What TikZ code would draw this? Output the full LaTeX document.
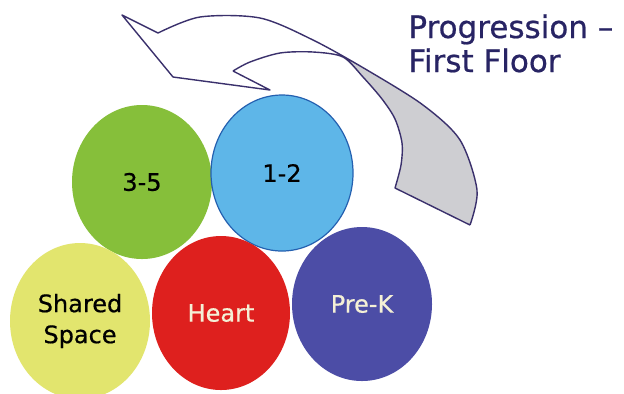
\documentclass[tikz,border=0pt]{standalone}
\usepackage{fontspec}
\setmainfont[FakeBold=0.6]{DejaVu Sans}
\usetikzlibrary{shapes.geometric}
\definecolor{ink}{RGB}{40,36,100}
\definecolor{rim}{RGB}{58,48,108}
\definecolor{fold}{RGB}{206,206,210}
\definecolor{grades35}{RGB}{134,191,58}
\definecolor{grades12}{RGB}{94,182,232}
\definecolor{grades12rim}{RGB}{36,96,176}
\definecolor{shared}{RGB}{226,229,110}
\definecolor{heart}{RGB}{222,32,30}
\definecolor{prek}{RGB}{76,77,166}
\definecolor{cream}{RGB}{244,240,214}
\tikzset{room/.style = {ellipse, inner sep = 0, minimum width = 70pt, minimum height = 77pt,
                        align = center, font = \fontsize{12}{15.5}\selectfont}}
\tikzset{heading/.style = {anchor = base west, inner sep = 0, text = ink,
                           font = \fontsize{15.5}{17}\selectfont}}

\begin{document}
\begin{tikzpicture}[x = 0.5pt, y = -0.5pt]
      \useasboundingbox (0, 0) rectangle (624, 393);
      \clip (0, 0) rectangle (624, 393);
      \fill [white] (0, 0) rectangle (624, 393);
      \fill [fold] plot [smooth] coordinates {(343, 57) (367, 70) (423, 105) (460, 140) (477, 190) (470, 225)}
            -- plot [smooth] coordinates {(395, 188) (401, 165) (402, 143) (395, 119) (382, 99) (363, 77) (343, 57)}
            -- cycle;
      \draw [rim, line width = 0.7pt, line join = round]
            (158, 33) -- (122, 15) -- (173, 77) -- (270, 90) -- (233, 71)
            plot [smooth] coordinates {(233, 71) (250, 62) (280, 53) (313, 52) (343, 57) (363, 77) (382, 99) (395, 119) (402, 143) (401, 165) (395, 188)}
            -- (470, 225)
            plot [smooth] coordinates {(470, 225) (477, 190) (460, 140) (423, 105) (367, 70) (313, 40) (260, 18) (200, 17) (158, 33)};
      \node [room, fill = grades35] (g35) at (142, 182) {3-5};
      \node [room, fill = grades12, draw = grades12rim, line width = 0.6pt,
             minimum width = 71pt, minimum height = 78pt] (g12) at (282, 173) {1-2};
      \node [room, fill = shared, minimum height = 78pt] (space) at (80, 321) {Shared\\Space};
      \node [room, fill = heart, text = cream, minimum width = 69pt] (heart) at (221, 313) {Heart};
      \node [room, fill = prek, text = cream] (prek) at (362, 304) {Pre-K};
      \node [heading] (title) at (408, 38) {Progression –};
      \node [heading] (floor) at (408, 72) {First Floor};
    \end{tikzpicture}
\end{document}
